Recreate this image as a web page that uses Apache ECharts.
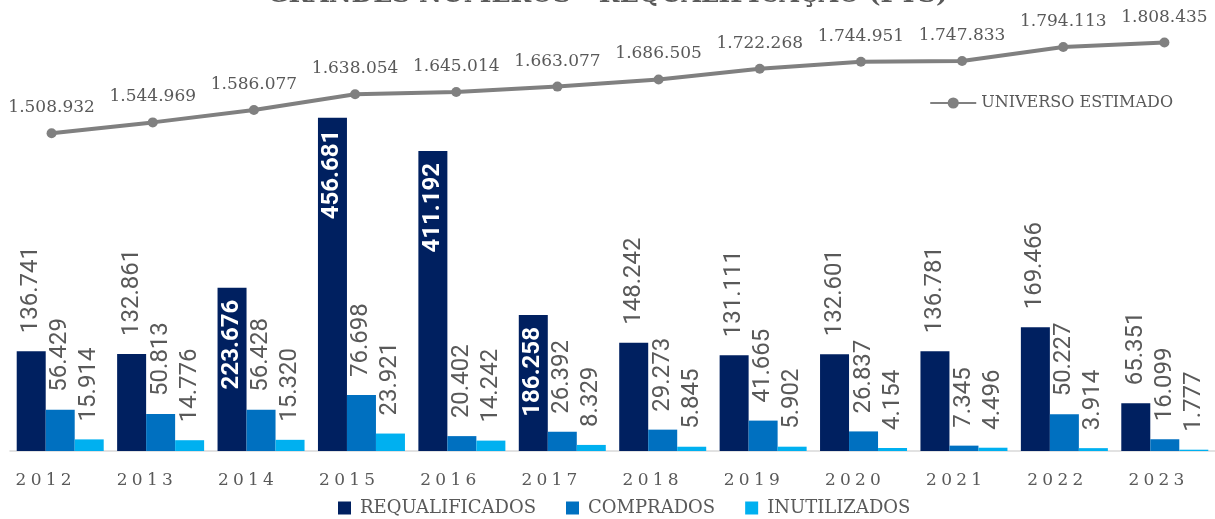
<!DOCTYPE html>
<html>
<head>
<meta charset="utf-8">
<script src="https://cdn.jsdelivr.net/npm/echarts@6/dist/echarts.min.js"></script>
<style>
  html, body { margin:0; padding:0; background:#fff; }
  #chart { width:1215px; height:519px; }
</style>
</head>
<body>
<div id="chart"></div>
<script type="text/javascript">
	var anos = ['2012','2013','2014','2015','2016','2017','2018','2019','2020','2021','2022','2023'];
	var requalificados = [136741,132861,223676,456681,411192,186258,148242,131111,132601,136781,169466,65351];
	var comprados      = [56429,50813,56428,76698,20402,26392,29273,41665,26837,7345,50227,16099];
	var inutilizados   = [15914,14776,15320,23921,14242,8329,5845,5902,4154,4496,3914,1777];
	var universo       = [1508932,1544969,1586077,1638054,1645014,1663077,1686505,1722268,1744951,1747833,1794113,1808435];

	// formato pt-BR: 1.508.932
	function fmt(v){ return String(v).replace(/\B(?=(\d{3})+(?!\d))/g, '.'); }

	var cinza = '#595959';
	var serif = 'DejaVu Serif';
	var sans = 'Roboto';

	// rótulo das barras: fora (cinza) ou dentro (branco) quando a barra é alta
	function barData(arr){
		return arr.map(function(v){
			if (v > 180000) {
				return { value: v, label: { position: 'insideTop', align: 'right', color: '#fff', fontWeight: 'bold', distance: 12 } };
			}
			return v;
		});
	}
	function barSeries(nome, arr, cor){
		return {
			name: nome,
			type: 'bar',
			xAxisIndex: 0, yAxisIndex: 0,
			barWidth: 29,
			barGap: '0%',
			itemStyle: { color: cor },
			label: {
				show: true,
				position: 'top',
				rotate: 90,
				align: 'left',
				verticalAlign: 'middle',
				distance: 18,
				color: cinza,
				fontFamily: sans,
				fontSize: 24,
				formatter: function(p){ return fmt(p.value); }
			},
			data: barData(arr)
		};
	}

	var myChart = echarts.init(document.getElementById('chart'));
	var option = {
		animation: false,
		title: {
			text: 'GRANDES NÚMEROS - REQUALIFICAÇÃO (PTS)',
			left: 'center',
			top: -22,
			textStyle: { color: cinza, fontFamily: serif, fontWeight: 'bold', fontSize: 25 }
		},
		legend: [
			{
				data: ['REQUALIFICADOS', 'COMPRADOS', 'INUTILIZADOS'],
				left: 333,
				bottom: -3,
				icon: 'rect',
				itemWidth: 13,
				itemHeight: 13,
				itemGap: 30,
				textStyle: { color: cinza, fontFamily: serif, fontSize: 18, padding: [0, 0, 0, 4] }
			},
			{
				data: ['UNIVERSO ESTIMADO'],
				right: 37,
				top: 90,
				itemWidth: 46,
				itemHeight: 14,
				textStyle: { color: cinza, fontFamily: serif, fontSize: 16 }
			}
		],
		grid: [
			{ left: 10, right: 0, top: 30, bottom: 68 },
			{ left: 1, right: -5, top: 30, bottom: 68 }
		],
		xAxis: [
			{
				type: 'category', gridIndex: 0, data: anos,
				axisLine: { lineStyle: { color: '#d9d9d9', width: 1.5 } },
				axisTick: { show: false },
				axisLabel: { show: false }
			},
			{
				type: 'category', gridIndex: 1, data: anos,
				axisLine: { show: false },
				axisTick: { show: false },
				axisLabel: {
					color: cinza, fontFamily: serif, fontSize: 17, margin: 21,
					padding: [0, 16, 0, 0],
					formatter: function(v){ return v.split('').join('\u2005'); }
				}
			}
		],
		yAxis: [
			{ type: 'value', gridIndex: 0, min: 0, max: 577000, show: false, splitLine: { show: false } },
			{ type: 'value', gridIndex: 1, min: 460000, max: 1850000, show: false, splitLine: { show: false } }
		],
		series: [
			barSeries('REQUALIFICADOS', requalificados, '#002060'),
			barSeries('COMPRADOS', comprados, '#0070C0'),
			barSeries('INUTILIZADOS', inutilizados, '#00B0F0'),
			{
				name: 'UNIVERSO ESTIMADO',
				type: 'line',
				xAxisIndex: 1, yAxisIndex: 1,
				symbol: 'circle',
				symbolSize: 10,
				lineStyle: { color: '#808080', width: 4 },
				itemStyle: { color: '#808080' },
				label: {
					show: true,
					position: 'top',
					distance: 12,
					color: cinza,
					fontFamily: serif,
					fontSize: 17,
					formatter: function(p){ return fmt(p.value); }
				},
				data: universo
			}
		]
	};
	myChart.setOption(option);
</script>
</body>
</html>
